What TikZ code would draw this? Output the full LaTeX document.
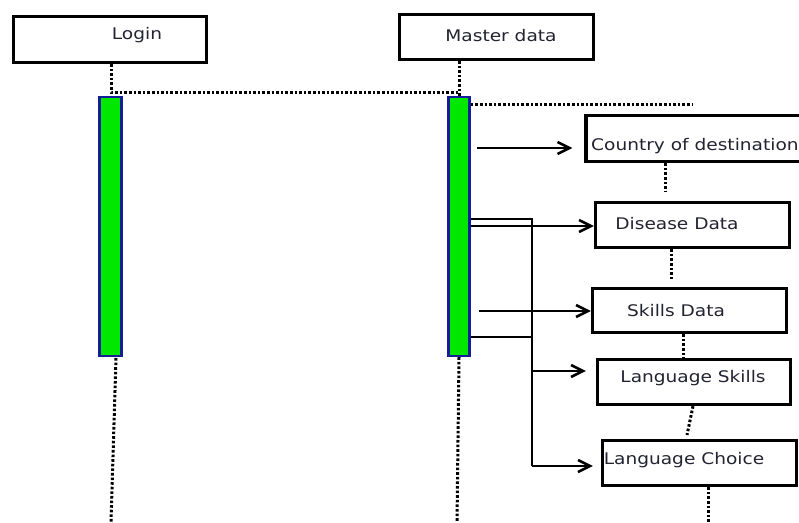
\documentclass[tikz,border=0pt]{standalone}
\usepackage{fontspec}
\usepackage{graphicx}
\usetikzlibrary{arrows.meta}
\newfontfamily\labfont{DejaVu Sans}
\newcommand\wide[1]{\scalebox{1.16}[1]{#1}}
\definecolor{actgreen}{RGB}{0,232,0}
\definecolor{actblue}{RGB}{20,30,150}
\definecolor{labgray}{RGB}{35,35,50}
\tikzset{
  objbox/.style={draw=black, line width=3.2pt, fill=white, inner sep=0pt},
  actbar/.style={draw=actblue, line width=2.4pt, fill=actgreen, inner sep=0pt},
  lbl/.style={inner sep=0pt, text=labgray, font=\labfont\fontsize{16}{19}\selectfont},
  dotline/.style={line width=3pt, dash pattern=on 2.6pt off 2pt},
  msg/.style={line width=2.6pt, -{Straight Barb[length=12pt,width=12pt,line width=2.6pt]}},
  wire/.style={line width=2.6pt}
}
\begin{document}
\begin{tikzpicture}[x=1pt,y=-1pt]
\useasboundingbox (0,0) rectangle (799,522);
\clip (0,0) rectangle (799,522);

% object boxes
\node[objbox, minimum width=193pt, minimum height=46pt] (login)   at (110,39.5) {};
\node[objbox, minimum width=194pt, minimum height=45pt] (master)  at (496.5,37) {};
\node[objbox, minimum width=218pt, minimum height=46pt] (country) at (695,138.5) {};
\node[objbox, minimum width=194pt, minimum height=45pt] (disease) at (692.5,225) {};
\node[objbox, minimum width=194pt, minimum height=44pt] (skills)  at (689.5,310.5) {};
\node[objbox, minimum width=193pt, minimum height=45pt] (langsk)  at (694,382) {};
\node[objbox, minimum width=194pt, minimum height=45pt] (langch)  at (699.5,463) {};

% labels
\node[lbl] (tlogin)   at (137,35)  {\wide{Login}};
\node[lbl] (tmaster)  at (501,36)  {\wide{Master data}};
\node[lbl, anchor=west] (tcountry) at (591,146) {\wide{Country of destination}};
\node[lbl] (tdisease) at (677,224) {\wide{Disease Data}};
\node[lbl] (tskills)  at (676,311) {\wide{Skills Data}};
\node[lbl] (tlangsk)  at (693,378) {\wide{Language Skills}};
\node[lbl] (tlangch)  at (684,460) {\wide{Language Choice}};

% activation bars
\node[actbar, minimum width=22pt, minimum height=259pt] (lact) at (110.5,226.5) {};
\node[actbar, minimum width=21pt, minimum height=259pt] (mact) at (459,226.5) {};

% lifeline ends and helper points
\coordinate (lsync) at (111,92);
\coordinate (msync) at (459,92);
\coordinate (lend)  at (111,522);
\coordinate (mend)  at (457,522);
\coordinate (rend)  at (693,104);
\coordinate (j1) at (532,219);
\coordinate (j2) at (532,337);
\coordinate (j3) at (532,371);
\coordinate (j4) at (532,466);
\coordinate (cstart) at (477,148);
\coordinate (sstart) at (479,311);

% lifelines
\draw[dotline] (111,64) -- (lsync) -- (msync);
\draw[dotline] (459,61) -- (mact.north);
\draw[dotline] (mact.east |- rend) -- (rend);
\draw[dotline] (116,358) -- (lend);
\draw[dotline] (mact.south) -- (mend);
\draw[dotline] (country.south -| 665,0) -- (665,192);
\draw[dotline] (disease.south -| 671,0) -- (671,280);
\draw[dotline] (skills.south -| 683,0) -- (langsk.north -| 683,0);
\draw[dotline] (langsk.south -| 693,0) -- (687,435);
\draw[dotline] (langch.south -| 708,0) -- (708,522);

% messages
\draw[msg, shorten >=12pt] (cstart) -- (country.west |- cstart);
\draw[wire] (mact.east |- j1) -- (j1) -- (j4);
\draw[wire] (mact.east |- j2) -- (j2);
\draw[msg] (mact.east |- 0,226) -- (disease.west |- 0,226);
\draw[msg] (sstart) -- (skills.west |- sstart);
\draw[msg, shorten >=10pt] (j3) -- (langsk.west |- j3);
\draw[msg, shorten >=8pt] (j4) -- (langch.west |- j4);
\end{tikzpicture}
\end{document}
